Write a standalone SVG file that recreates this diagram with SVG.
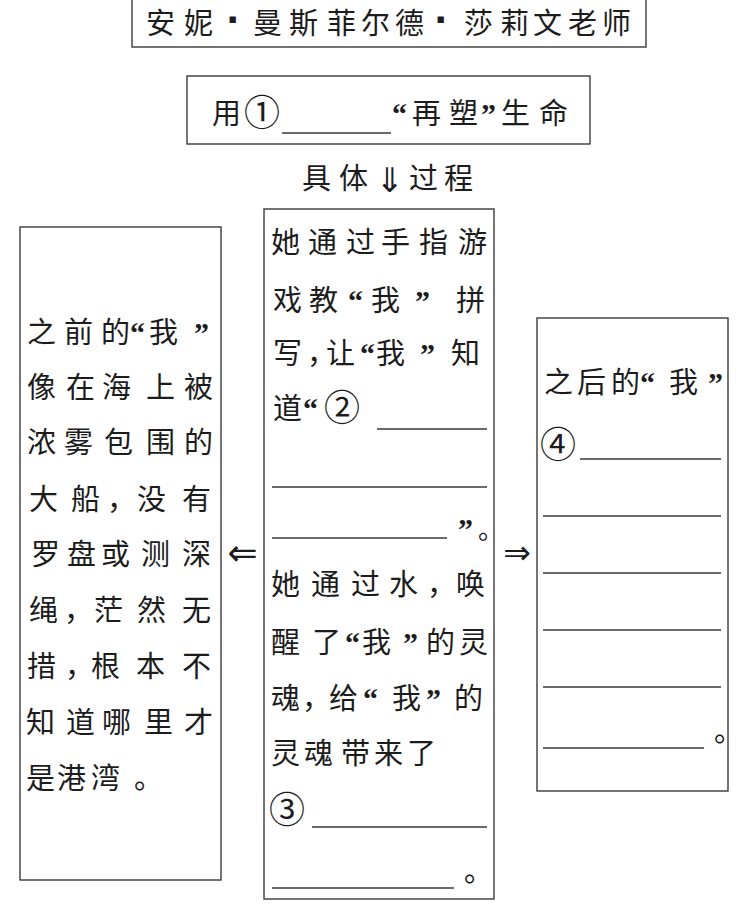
<svg xmlns="http://www.w3.org/2000/svg" width="752" height="910" viewBox="0 0 752 910">
<style>
.box{fill:none;stroke:#3a3a3a;stroke-width:1.4}
.ul{stroke:#3a3a3a;stroke-width:1.3;fill:none}
.t{font-family:"Noto Sans CJK SC","Noto Sans CJK JP",sans-serif;font-size:29px;fill:#1c1c1c}
.q{font-family:"Liberation Serif",serif;font-size:30px;font-weight:bold}
.n{font-family:"Noto Sans CJK SC",sans-serif;font-size:36px;text-anchor:middle;fill:#1c1c1c}
.dot{font-family:"Liberation Sans",sans-serif;font-size:30px;font-weight:bold;fill:#1c1c1c;stroke:#1c1c1c;stroke-width:2;text-anchor:middle}
.arr{font-family:"DejaVu Sans",sans-serif;font-size:36px;fill:#1c1c1c;text-anchor:middle}
</style>
<rect width="752" height="910" fill="#ffffff"/>

<g id="node-title">
<rect class="box" x="132" y="-5" width="514" height="52"/>
<text class="t" y="34" x="146 184">安妮</text>
<text class="dot" x="233.5" y="30">·</text>
<text class="t" y="34" x="253 289 327 361 395">曼斯菲尔德</text>
<text class="dot" x="441.5" y="30">·</text>
<text class="t" y="34" x="464 500 533 568 602">莎莉文老师</text>
</g>

<g id="node-method">
<rect class="box" x="187" y="76" width="403" height="68"/>
<text class="t" y="124"><tspan x="212">用</tspan></text>
<text class="n" x="262" y="126">①</text>
<line class="ul" x1="282" y1="133" x2="391" y2="133"/>
<text class="t" y="124"><tspan class="q" x="392">“</tspan><tspan x="412 449">再塑</tspan><tspan class="q" x="481">”</tspan><tspan x="501 539">生命</tspan></text>
</g>

<g id="connectors">
<text class="arr" x="389.5" y="192" style="font-size:34px">⇓</text>
<text class="arr" x="242.5" y="565">⇐</text>
<text class="arr" x="517" y="564" style="font-size:33px">⇒</text>
</g>

<g id="label-process">
<text class="t" y="189"><tspan x="302 339">具体</tspan><tspan x="409 444">过程</tspan></text>
</g>

<g id="node-before">
<rect class="box" x="20" y="227" width="201" height="653"/>
<text class="t" y="343"><tspan x="27 64 101">之前的</tspan><tspan class="q" x="130">“</tspan><tspan x="149">我</tspan><tspan class="q" x="194">”</tspan></text>
<text class="t" y="398" x="27 66 102 146 184">像在海上被</text>
<text class="t" y="453" x="27 64 104 146 184">浓雾包围的</text>
<text class="t" y="510" x="29 71 107 137 182">大船，没有</text>
<text class="t" y="565" x="31 67 101 141 182">罗盘或测深</text>
<text class="t" y="621" x="29 64 94 137 182">绳，茫然无</text>
<text class="t" y="677" x="27 65 91 136 182">措，根本不</text>
<text class="t" y="733" x="26 66 102 144 184">知道哪里才</text>
<text class="t" y="789" x="26 57 91 134">是港湾。</text>
</g>

<g id="node-process">
<rect class="box" x="264" y="209" width="230" height="690"/>
<text class="t" y="253" x="271 308 346 381 419 458">她通过手指游</text>
<text class="t" y="311"><tspan x="273 309">戏教</tspan><tspan class="q" x="348">“</tspan><tspan x="371">我</tspan><tspan class="q" x="415">”</tspan><tspan x="456">拼</tspan></text>
<text class="t" y="364"><tspan x="273 307 326">写，让</tspan><tspan class="q" x="360">“</tspan><tspan x="376">我</tspan><tspan class="q" x="420">”</tspan><tspan x="451">知</tspan></text>
<text class="t" y="419"><tspan x="273">道</tspan><tspan class="q" x="303">“</tspan></text>
<text class="n" x="342" y="421">②</text>
<line class="ul" x1="377" y1="429" x2="487" y2="429"/>
<line class="ul" x1="272" y1="487" x2="487" y2="487"/>
<line class="ul" x1="272" y1="538" x2="447" y2="538"/>
<text class="t" y="539"><tspan class="q" x="458">”</tspan><tspan x="478" style="font-size:26px">。</tspan></text>
<text class="t" y="595" x="271 311 351 389 427 456">她通过水，唤</text>
<text class="t" y="653"><tspan x="271 312">醒了</tspan><tspan class="q" x="345">“</tspan><tspan x="362">我</tspan><tspan class="q" x="403">”</tspan><tspan x="426 459">的灵</tspan></text>
<text class="t" y="709"><tspan x="271 302 329">魂，给</tspan><tspan class="q" x="363">“</tspan><tspan x="392">我</tspan><tspan class="q" x="426">”</tspan><tspan x="454">的</tspan></text>
<text class="t" y="764" x="271 304 341 374 407">灵魂带来了</text>
<text class="n" x="287" y="823">③</text>
<line class="ul" x1="312" y1="827" x2="487" y2="827"/>
<line class="ul" x1="272" y1="888" x2="454" y2="888"/>
<text class="t" y="882" x="464">。</text>
</g>

<g id="node-after">
<rect class="box" x="537" y="318" width="191" height="473"/>
<text class="t" y="393"><tspan x="544 577 611">之后的</tspan><tspan class="q" x="640">“</tspan><tspan x="669">我</tspan><tspan class="q" x="708">”</tspan></text>
<text class="n" x="558" y="458">④</text>
<line class="ul" x1="580" y1="459" x2="721" y2="459"/>
<line class="ul" x1="543" y1="516" x2="721" y2="516"/>
<line class="ul" x1="543" y1="573" x2="721" y2="573"/>
<line class="ul" x1="543" y1="630" x2="721" y2="630"/>
<line class="ul" x1="543" y1="687" x2="721" y2="687"/>
<line class="ul" x1="543" y1="748" x2="704" y2="748"/>
<text class="t" y="742" x="714">。</text>
</g>
</svg>
